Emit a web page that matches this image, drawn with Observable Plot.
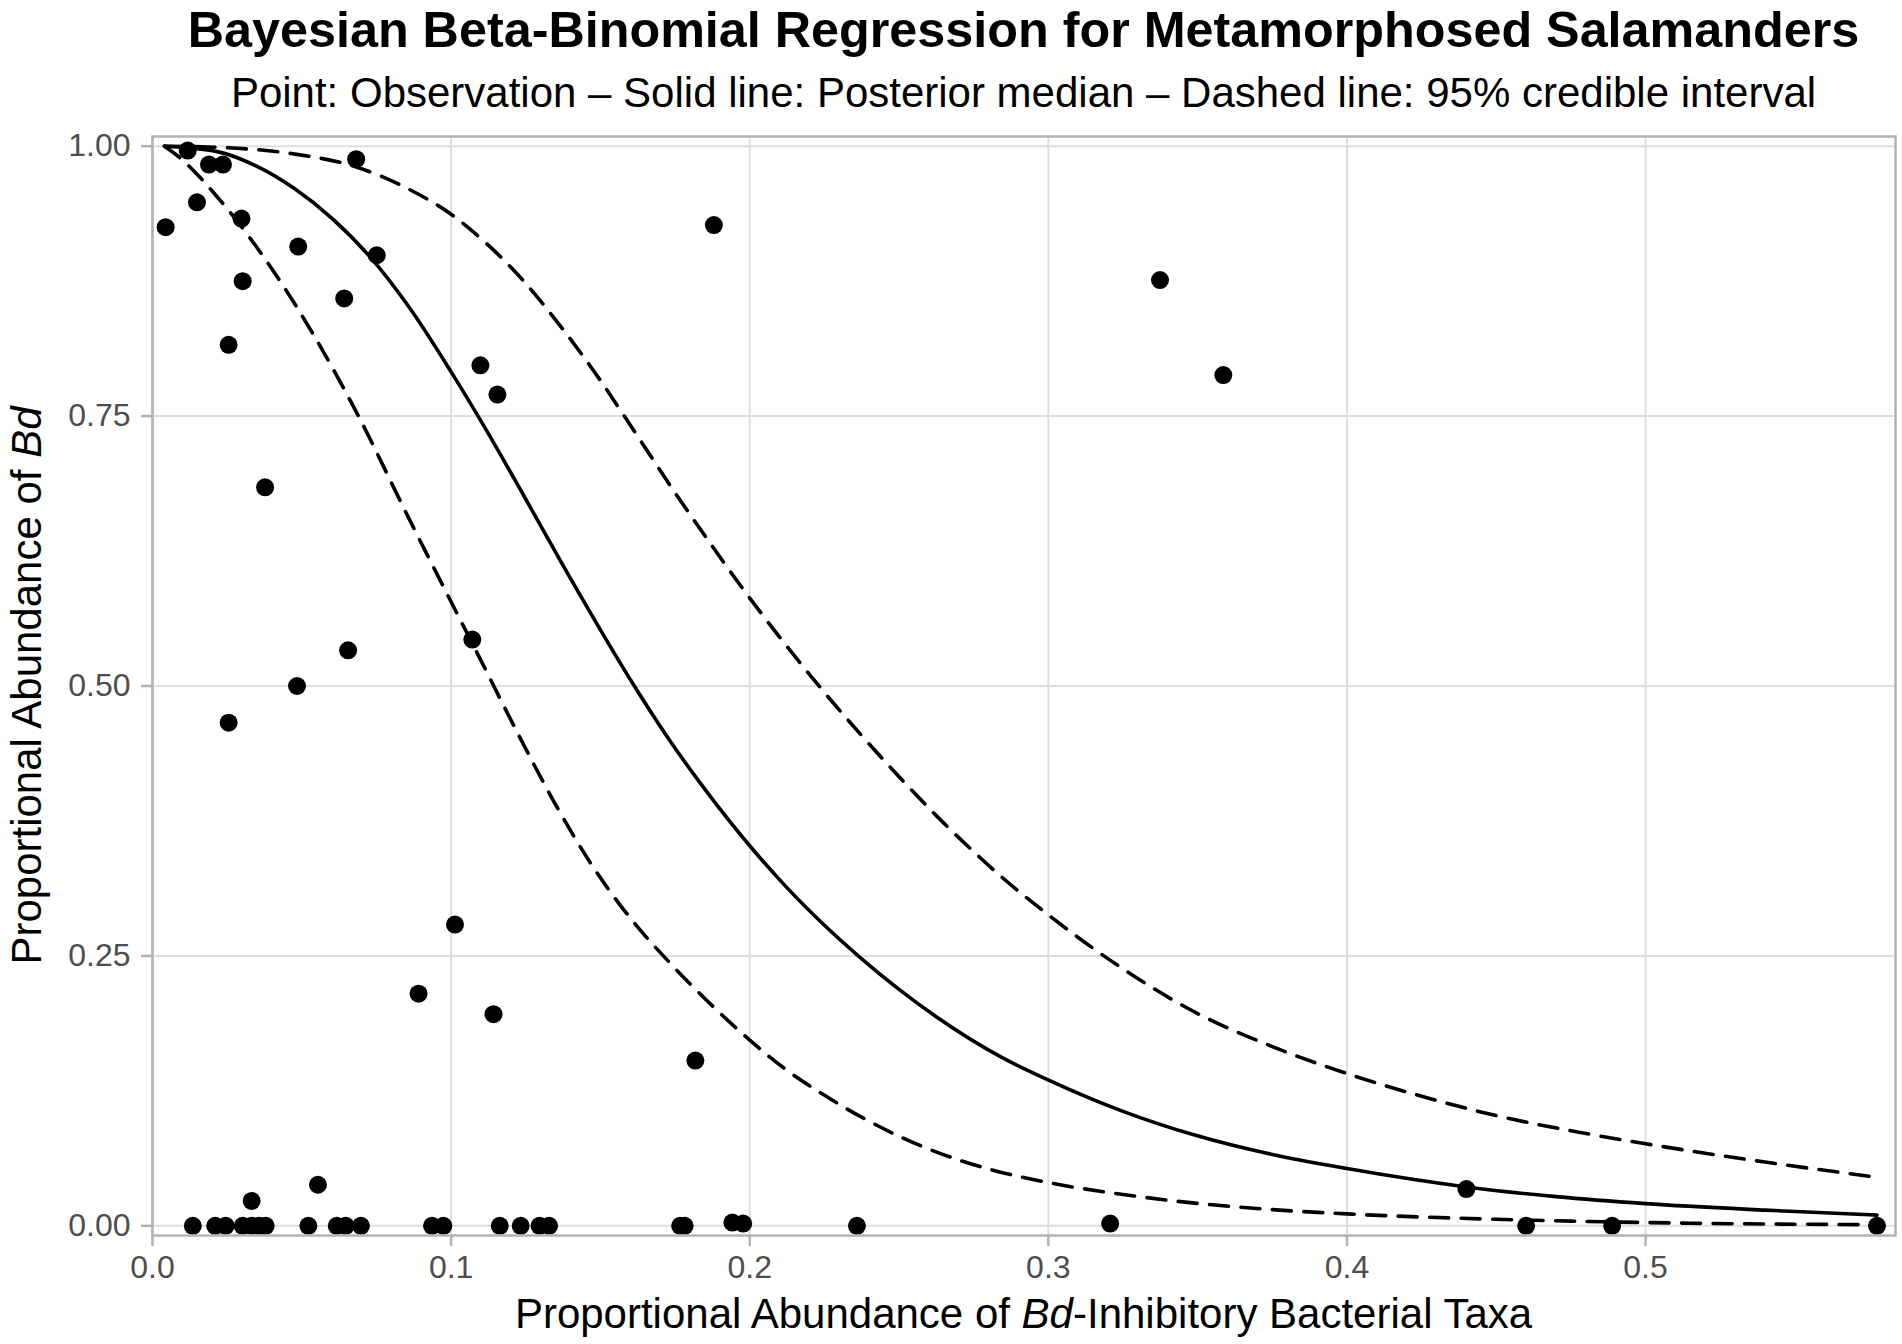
<!DOCTYPE html>
<html>
<head>
<meta charset="utf-8">
<script src="https://cdn.jsdelivr.net/npm/d3@7"></script>
<script src="https://cdn.jsdelivr.net/npm/@observablehq/plot@0.6"></script>
<style>
html, body { margin: 0; padding: 0; background: #fff; }
#wrap { position: relative; width: 1902px; height: 1344px; overflow: hidden; font-family: 'Liberation Sans', Arial, Helvetica, sans-serif; }
#title { position: absolute; left: 152px; width: 1743px; top: 1px; text-align: center; font-size: 50.3px; line-height: 57px; font-weight: bold; color: #000; white-space: nowrap; }
#subtitle { position: absolute; left: 152px; width: 1743px; top: 69px; text-align: center; font-size: 42px; line-height: 47px; color: #000; white-space: nowrap; }
#chart { position: absolute; left: 0; top: 120px; }
</style>
</head>
<body>
<div id="wrap">
  <div id="title">Bayesian Beta-Binomial Regression for Metamorphosed Salamanders</div>
  <div id="subtitle">Point: Observation – Solid line: Posterior median – Dashed line: 95% credible interval</div>
  <div id="chart"></div>
</div>
<script>
// Axis ticks
const xTicks = [0, 0.1, 0.2, 0.3, 0.4, 0.5];
const yTicks = [0, 0.25, 0.5, 0.75, 1];

// Observations
const obsX = [0.0044, 0.0118, 0.0149, 0.0189, 0.0236, 0.0298, 0.0302, 0.0255, 0.0377, 0.0488,
  0.0642, 0.0682, 0.0751, 0.1098, 0.1155, 0.1071, 0.0655, 0.0484, 0.0255, 0.1013,
  0.0891, 0.1142, 0.1818, 0.1880, 0.3374, 0.3586, 0.4400, 0.0332, 0.0554, 0.1942,
  0.1978, 0.3207,
  0.0135, 0.0210, 0.0245, 0.0302, 0.0332, 0.0357, 0.0379, 0.0522, 0.0617, 0.0647,
  0.0698, 0.0936, 0.0974, 0.1163, 0.1233, 0.1296, 0.1328, 0.1767, 0.1782, 0.2359,
  0.4600, 0.4888, 0.5775];
const obsY = [0.925, 0.996, 0.948, 0.983, 0.983, 0.933, 0.875, 0.816, 0.684, 0.907,
  0.859, 0.988, 0.899, 0.797, 0.770, 0.543, 0.533, 0.500, 0.466, 0.279,
  0.215, 0.196, 0.153, 0.927, 0.876, 0.788, 0.034, 0.023, 0.038, 0.003,
  0.002, 0.002,
  0, 0, 0, 0, 0, 0, 0, 0, 0, 0,
  0, 0, 0, 0, 0, 0, 0, 0, 0, 0,
  0, 0, 0];

// Posterior median
const medianX = [0.004, 0.0217, 0.0345, 0.0474, 0.0602, 0.073, 0.0859, 0.100, 0.1116, 0.1244,
  0.137, 0.150, 0.160, 0.1731, 0.1859, 0.200, 0.2115, 0.2244, 0.2372, 0.250,
  0.2628, 0.2844, 0.3008, 0.325, 0.349, 0.375, 0.400, 0.440, 0.470, 0.500,
  0.540, 0.5775];
const medianY = [1.000, 0.995, 0.982, 0.961, 0.933, 0.897, 0.851, 0.791, 0.738, 0.676,
  0.614, 0.552, 0.506, 0.450, 0.401, 0.352, 0.316, 0.280, 0.248, 0.219,
  0.193, 0.156, 0.134, 0.106, 0.084, 0.066, 0.053, 0.036, 0.027, 0.0205,
  0.0145, 0.0099];

// 95% credible interval, lower bound
const lowerX = [0.004, 0.0089, 0.0217, 0.0345, 0.0474, 0.0602, 0.0686, 0.0859, 0.0987, 0.107,
  0.1231, 0.1346, 0.1474, 0.1603, 0.1731, 0.1859, 0.200, 0.2115, 0.2244, 0.2372,
  0.250, 0.2628, 0.2808, 0.300, 0.325, 0.349, 0.375, 0.400, 0.450, 0.500, 0.5775];
const lowerY = [1.000, 0.990, 0.953, 0.908, 0.855, 0.795, 0.752, 0.655, 0.585, 0.540,
  0.452, 0.392, 0.333, 0.284, 0.244, 0.208, 0.172, 0.146, 0.122, 0.101,
  0.083, 0.068, 0.052, 0.040, 0.029, 0.021, 0.015, 0.011, 0.006, 0.003, 0.001];

// 95% credible interval, upper bound
const upperX = [0.004, 0.0217, 0.047, 0.068, 0.086, 0.100, 0.111, 0.124, 0.137, 0.150,
  0.158, 0.1755, 0.1886, 0.1956, 0.2115, 0.2244, 0.2372, 0.250, 0.2628, 0.2756,
  0.2844, 0.300, 0.325, 0.349, 0.375, 0.400, 0.425, 0.450, 0.475, 0.500,
  0.540, 0.5775];
const upperY = [1.000, 0.999, 0.993, 0.981, 0.960, 0.937, 0.912, 0.876, 0.832, 0.783,
  0.750, 0.677, 0.625, 0.598, 0.540, 0.496, 0.455, 0.416, 0.379, 0.345,
  0.323, 0.288, 0.238, 0.198, 0.166, 0.141, 0.120, 0.102, 0.088, 0.076,
  0.059, 0.045];

const obs = obsX.map((x, i) => ({x, y: obsY[i]}));
const median = medianX.map((x, i) => ({x, y: medianY[i]}));
const lower = lowerX.map((x, i) => ({x, y: lowerY[i]}));
const upper = upperX.map((x, i) => ({x, y: upperY[i]}));

const W = 1902, H = 1224;
const mL = 152, mR = 7, mT = 16, mB = 109;

const chart = Plot.plot({
  width: W,
  height: H,
  marginLeft: mL,
  marginRight: mR,
  marginTop: mT,
  marginBottom: mB,
  style: {fontFamily: "'Liberation Sans', Arial, Helvetica, sans-serif", fontSize: "32px", background: "white", color: "#000"},
  x: {domain: [0, 0.5837], label: null},
  y: {domain: [-0.009, 1.009], label: null},
  marks: [
    Plot.gridX(xTicks, {stroke: "#DEDEDE", strokeOpacity: 1, strokeWidth: 2}),
    Plot.gridY(yTicks, {stroke: "#DEDEDE", strokeOpacity: 1, strokeWidth: 2}),
    Plot.dot(obs, {x: "x", y: "y", r: 9, fill: "#000", stroke: null}),
    Plot.line(median, {x: "x", y: "y", curve: "monotone-x", stroke: "#000", strokeWidth: 3.6}),
    Plot.line(lower, {x: "x", y: "y", curve: "monotone-x", stroke: "#000", strokeWidth: 3.6, strokeDasharray: "19,12.5"}),
    Plot.line(upper, {x: "x", y: "y", curve: "monotone-x", stroke: "#000", strokeWidth: 3.6, strokeDasharray: "19,12.5"}),
    Plot.frame({stroke: "#B3B3B3", strokeWidth: 2.5}),
    Plot.axisX(xTicks, {tickSize: 11, tickPadding: 9, tickFormat: d3.format(".1f"), stroke: "#B3B3B3", strokeWidth: 2.5, fill: "#4D4D4D", fontSize: 32, label: null}),
    Plot.axisY(yTicks, {tickSize: 11, tickPadding: 11, tickFormat: d3.format(".2f"), stroke: "#B3B3B3", strokeWidth: 2.5, fill: "#4D4D4D", fontSize: 32, label: null})
  ]
});

document.getElementById("chart").appendChild(chart);

// Axis titles with italic "Bd"
const svg = d3.select(chart);
const cx = mL + (W - mL - mR) / 2;
const cy = mT + (H - mT - mB) / 2;

const xt = svg.append("text")
  .attr("x", cx).attr("y", 1208)
  .attr("text-anchor", "middle")
  .attr("style", "font-size:42px;fill:#000;font-family:'Liberation Sans', Arial, Helvetica, sans-serif");
xt.append("tspan").text("Proportional Abundance of ");
xt.append("tspan").attr("style", "font-style:italic").text("Bd");
xt.append("tspan").text("-Inhibitory Bacterial Taxa");

const yt = svg.append("text")
  .attr("transform", `translate(41,${cy}) rotate(-90)`)
  .attr("text-anchor", "middle")
  .attr("style", "font-size:42px;fill:#000;font-family:'Liberation Sans', Arial, Helvetica, sans-serif");
yt.append("tspan").text("Proportional Abundance of ");
yt.append("tspan").attr("style", "font-style:italic").text("Bd");
</script>
</body>
</html>
